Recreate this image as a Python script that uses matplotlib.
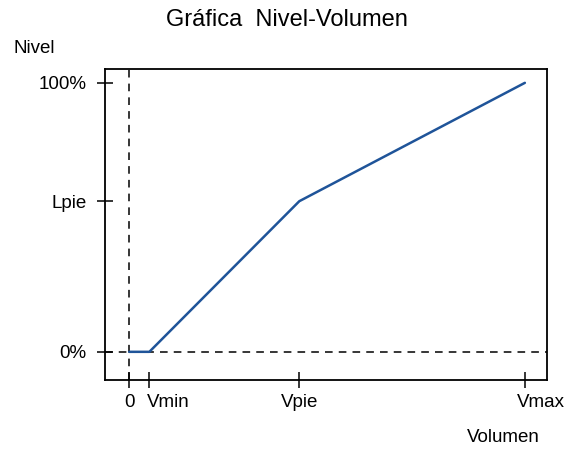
import numpy as np
import matplotlib.pyplot as plt
import matplotlib.transforms as mtransforms

plt.rcParams['font.family'] = ['Liberation Sans', 'DejaVu Sans']

# curve points (volume %, level %)
volumen = [0, 5.1, 43, 100]
nivel = [0, 0, 56, 100]

x_ticks = [0, 5.1, 43, 100]
x_labels = ["0", "Vmin", "Vpie", "Vmax"]
y_ticks = [0, 56, 100]
y_labels = ["0%", "Lpie", "100%"]

fig = plt.figure(figsize=(5.74, 4.5), dpi=100)
ax = fig.add_axes([0.183, 0.156, 0.770, 0.691])

# reference dashed lines at zero volume and zero level
ax.axvline(0, color="black", lw=1.1, ls=(0, (5, 4)))
ax.axhline(0, color="black", lw=1.1, ls=(0, (5, 4)))

ax.plot(volumen, nivel, color="#1f5499", lw=1.8, solid_capstyle="round")

ax.set_xlim(-6.1, 105.6)
ax.set_ylim(-10.4, 105.2)

ax.set_xticks(x_ticks)
ax.set_xticklabels(x_labels)
ax.set_yticks(y_ticks)
ax.set_yticklabels(y_labels)
ax.tick_params(direction="inout", length=11, width=1.1, labelsize=13.5,
               colors="black")
ax.tick_params(axis="x", pad=5)
ax.tick_params(axis="y", pad=8)

for s in ax.spines.values():
    s.set_linewidth(1.3)

# nudge some tick labels to sit like the original
xl = ax.get_xticklabels()
xl[1].set_horizontalalignment("left")
xl[1].set_transform(xl[1].get_transform() +
                    mtransforms.ScaledTranslation(-0.02, 0, fig.dpi_scale_trans))
xl[3].set_transform(xl[3].get_transform() +
                    mtransforms.ScaledTranslation(0.16, 0, fig.dpi_scale_trans))

fig.text(0.5, 0.956, "Gráfica  Nivel-Volumen", ha="center", va="center",
         fontsize=17)
fig.text(0.059, 0.893, "Nivel", ha="center", va="center", fontsize=13.5)
fig.text(0.877, 0.027, "Volumen", ha="center", va="center", fontsize=13.5)

fig.savefig("out.png", dpi=100)
